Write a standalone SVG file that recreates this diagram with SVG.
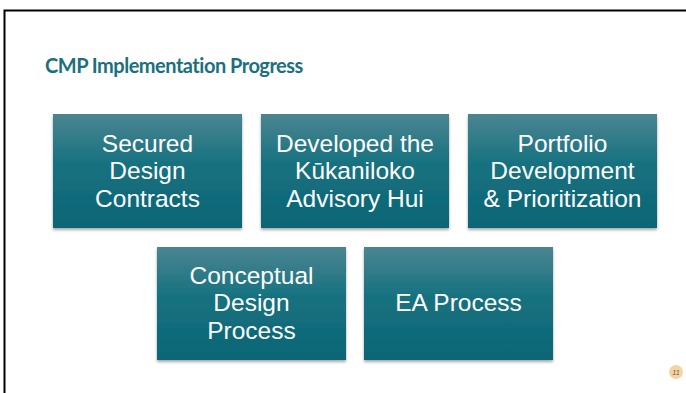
<svg xmlns="http://www.w3.org/2000/svg" width="686" height="393" viewBox="0 0 686 393">
<defs>
<linearGradient id="g" x1="0" y1="0" x2="0" y2="1">
<stop offset="0" stop-color="#4b8591"/>
<stop offset="0.45" stop-color="#15717f"/>
<stop offset="1" stop-color="#0d6575"/>
</linearGradient>
<filter id="sh" x="-5%" y="-5%" width="110%" height="115%">
<feDropShadow dx="0" dy="2" stdDeviation="1.5" flood-color="#000" flood-opacity="0.35"/>
</filter>
</defs>
<style>
.box{fill:url(#g);filter:url(#sh)}
.t{font-family:"Liberation Sans",Arial,sans-serif;font-size:24.5px;fill:#fff;text-anchor:middle}
.title{font-family:Lato,"Open Sans",sans-serif;font-weight:bold;font-size:20px;letter-spacing:-0.5px;fill:#1b6f7e}
</style>
<rect x="0" y="0" width="686" height="393" fill="#fff"/>
<path d="M4.5 393 V10.5 H686" fill="none" stroke="#000" stroke-width="2"/>
<text class="title" x="45" y="73">CMP Implementation Progress</text>
<g id="n1"><rect class="box" x="53" y="114" width="189" height="114"/>
<text class="t" x="147.5" y="151.5">Secured</text><text class="t" x="147.5" y="179">Design</text><text class="t" x="147.5" y="206.5">Contracts</text></g>
<g id="n2"><rect class="box" x="261" y="114" width="188" height="114"/>
<text class="t" x="355" y="151.5">Developed the</text><text class="t" x="355" y="179">Kūkaniloko</text><text class="t" x="355" y="206.5">Advisory Hui</text></g>
<g id="n3"><rect class="box" x="468" y="114" width="189" height="114"/>
<text class="t" x="562.5" y="151.5">Portfolio</text><text class="t" x="562.5" y="179">Development</text><text class="t" x="562.5" y="206.5">&amp; Prioritization</text></g>
<g id="n4"><rect class="box" x="157" y="247" width="189" height="113"/>
<text class="t" x="251.5" y="283.5">Conceptual</text><text class="t" x="251.5" y="311">Design</text><text class="t" x="251.5" y="338.5">Process</text></g>
<g id="n5"><rect class="box" x="364" y="247" width="189" height="113"/>
<text class="t" x="458.5" y="311">EA Process</text></g>
<g id="connectors"></g>
<g id="page"><circle cx="676" cy="372" r="7" fill="#f6d3a4"/>
<text x="676" y="374.5" font-family="'Liberation Sans',sans-serif" font-size="7" font-style="italic" fill="#6b5a40" text-anchor="middle">11</text></g>
</svg>
